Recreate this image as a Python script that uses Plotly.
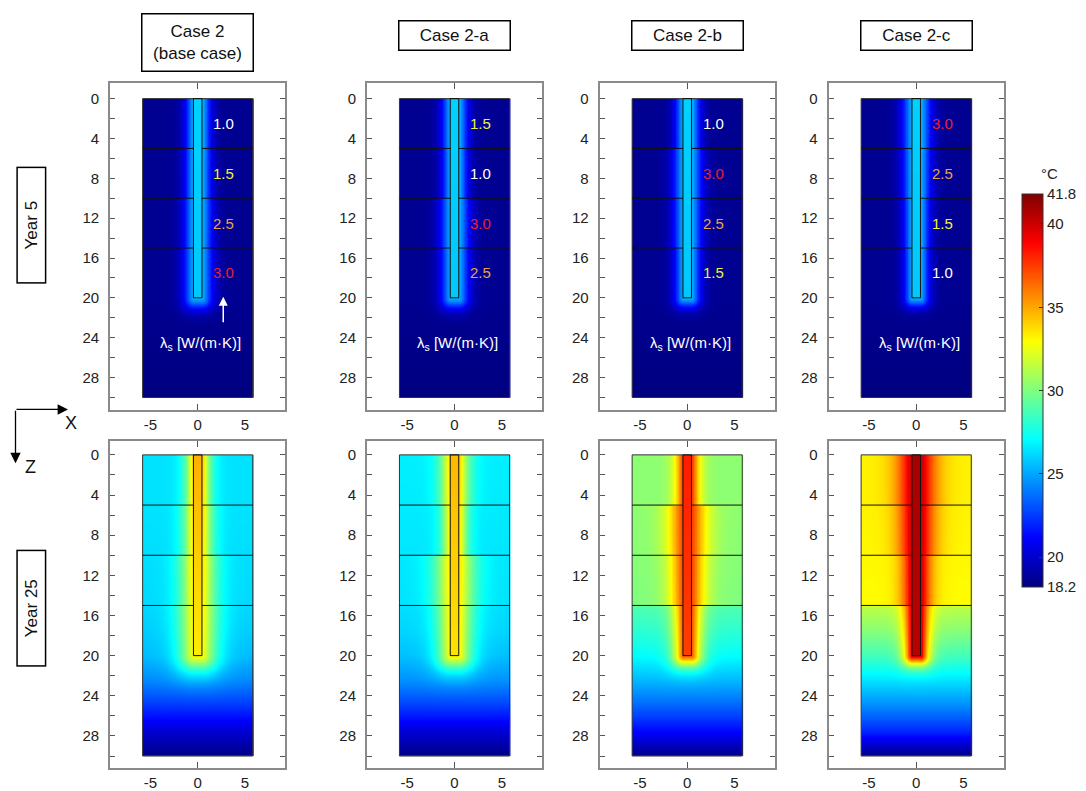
import numpy as np
import plotly.graph_objects as go

# ---------------- values ----------------
CASE_LABELS = ["Case 2<br>(base case)", "Case 2-a", "Case 2-b", "Case 2-c"]
YEAR_LABELS = ["Year 5", "Year 25"]

LAYER_BOUNDS = [5, 10, 15]                 # m, interfaces between soil layers
LAYER_CENTRES = [2.5, 7.5, 12.5, 17.5]     # m, where the lambda values are written
LAMBDA_CASE_2 = [1.0, 1.5, 2.5, 3.0]
LAMBDA_CASE_2A = [1.5, 1.0, 3.0, 2.5]
LAMBDA_CASE_2B = [1.0, 3.0, 2.5, 1.5]
LAMBDA_CASE_2C = [3.0, 2.5, 1.5, 1.0]
LAMBDAS = [LAMBDA_CASE_2, LAMBDA_CASE_2A, LAMBDA_CASE_2B, LAMBDA_CASE_2C]
LAMBDA_COLOURS = {1.0: "#ffffff", 1.5: "#f2f23a", 2.5: "#eaa24e", 3.0: "#e8202a"}

PILE_LENGTH = 20.0
PILE_HALF_WIDTH = 0.45
SOIL_HALF_WIDTH = 5.82
SOIL_DEPTH = 30.0

# far-field soil temperature (deg C) read at these depths (m)
DEPTH_NODES = [0, 5, 10, 14.9, 15.1, 17.5, 20, 22.5, 25, 27.5, 30]
FAR_Y5_CASE_2 = [18.6, 18.6, 18.6, 18.6, 18.6, 18.6, 18.6, 18.5, 18.4, 18.3, 18.2]
FAR_Y5_CASE_2A = [18.6, 18.6, 18.6, 18.6, 18.6, 18.6, 18.6, 18.5, 18.4, 18.3, 18.2]
FAR_Y5_CASE_2B = [18.6, 18.6, 18.6, 18.6, 18.6, 18.6, 18.6, 18.5, 18.4, 18.3, 18.2]
FAR_Y5_CASE_2C = [18.6, 18.6, 18.6, 18.6, 18.6, 18.6, 18.6, 18.5, 18.4, 18.3, 18.2]
FAR_Y25_CASE_2 = [26.4, 26.4, 26.3, 26.2, 26.1, 25.9, 25.5, 24.3, 22.4, 20.1, 18.3]
FAR_Y25_CASE_2A = [26.7, 26.6, 26.5, 26.4, 26.3, 26.1, 25.6, 24.5, 22.6, 20.2, 18.3]
FAR_Y25_CASE_2B = [30.3, 30.3, 30.2, 30.0, 28.9, 28.1, 27.1, 25.4, 23.5, 21.2, 18.3]
FAR_Y25_CASE_2C = [33.2, 33.2, 33.1, 33.0, 31.4, 30.2, 28.6, 26.4, 24.4, 22.0, 18.3]
FAR_T = [[FAR_Y5_CASE_2, FAR_Y5_CASE_2A, FAR_Y5_CASE_2B, FAR_Y5_CASE_2C],
         [FAR_Y25_CASE_2, FAR_Y25_CASE_2A, FAR_Y25_CASE_2B, FAR_Y25_CASE_2C]]

# pile temperature (deg C) at pile head and pile toe
PILE_T_Y5 = [(26.0, 25.8), (26.0, 25.8), (26.0, 25.8), (26.0, 25.8)]
PILE_T_Y25 = [(34.8, 33.4), (34.6, 33.6), (38.2, 37.4), (40.9, 40.5)]
PILE_T = [PILE_T_Y5, PILE_T_Y25]

# width of the warm zone around the pile: base + slope * lambda, shape exponent
HALO_BASE = [0.80, 0.55]
HALO_SLOPE = [0.10, 0.33]
HALO_SHAPE = [1.6, 1.4]
EDGE_FACTOR = [0.9, 0.93]

T_MIN, T_MAX = 18.2, 41.8
CBAR_TICKS = [18.2, 20, 25, 30, 35, 40, 41.8]
Y_TICKS = [0, 4, 8, 12, 16, 20, 24, 28]
X_TICKS = [-5, 0, 5]

# ---------------- layout geometry (pixels) ----------------
W, H = 1086, 791
COL_CENTRES = [197.7, 454.5, 687.2, 916.2]
HALF_FRAME = 87.5
ROW_FRAMES = [(83, 412), (443, 771)]
ROW_RANGES = [(-1.6, 31.3), (-1.35, 31.2)]
FONT = "Liberation Sans, Arial, sans-serif"

JET = [[0.0, "rgb(0,0,128)"], [0.125, "rgb(0,0,255)"], [0.375, "rgb(0,255,255)"],
       [0.625, "rgb(255,255,0)"], [0.875, "rgb(255,0,0)"], [1.0, "rgb(128,0,0)"]]

xs = np.arange(-SOIL_HALF_WIDTH + 0.04, SOIL_HALF_WIDTH, 0.08)
zs = np.arange(0.05, SOIL_DEPTH, 0.1)
X, Z = np.meshgrid(xs, zs)


def build_field(row, col):
    far = np.interp(Z, DEPTH_NODES, FAR_T[row][col])
    zc = np.clip(Z, 0, PILE_LENGTH)
    p_top, p_bot = PILE_T[row][col]
    tp = np.interp(zc, [0, PILE_LENGTH], [p_top, p_bot])
    lam_arr = np.array(LAMBDAS[col])
    idx = np.clip((zc // 5).astype(int), 0, 3)
    lam = lam_arr[idx]
    L = HALO_BASE[row] + HALO_SLOPE[row] * lam
    dx = np.maximum(np.abs(X) - PILE_HALF_WIDTH, 0)
    dz = np.maximum(Z - PILE_LENGTH, 0)
    d = np.hypot(dx, dz)
    t = far + (tp - far) * EDGE_FACTOR[row] * np.exp(-(d / L) ** HALO_SHAPE[row])
    inside = (np.abs(X) <= PILE_HALF_WIDTH) & (Z <= PILE_LENGTH)
    t = np.where(inside, tp, t)
    return np.round(t, 2)


fig = go.Figure()
shapes = []
annotations = []
layout_axes = {}

for row in range(2):
    for col in range(4):
        i = row * 4 + col
        xa = "x" if i == 0 else f"x{i + 1}"
        ya = "y" if i == 0 else f"y{i + 1}"
        xkey = "xaxis" if i == 0 else f"xaxis{i + 1}"
        ykey = "yaxis" if i == 0 else f"yaxis{i + 1}"
        cx = COL_CENTRES[col]
        top, bot = ROW_FRAMES[row]
        zlo, zhi = ROW_RANGES[row]
        xr = HALF_FRAME / 9.46
        layout_axes[xkey] = dict(
            domain=[(cx - HALF_FRAME) / W, (cx + HALF_FRAME) / W],
            range=[-xr, xr], anchor=ya, showline=True, linecolor="#8a8a8a",
            linewidth=2, mirror="allticks", showgrid=False, zeroline=False,
            tickvals=X_TICKS, ticks="", ticktext=["-5", "0", "5"],
            minor=dict(tickvals=[0], ticks="inside", ticklen=6, tickcolor="#555", tickwidth=1),
            tickfont=dict(family=FONT, size=15, color="#222"), fixedrange=True)
        layout_axes[ykey] = dict(
            domain=[1 - bot / H, 1 - top / H], range=[zhi, zlo], anchor=xa,
            showline=True, linecolor="#8a8a8a", linewidth=2, mirror="allticks",
            showgrid=False, zeroline=False, tickvals=Y_TICKS, ticks="inside",
            ticklen=5, tickcolor="#555", tickwidth=1,
            minor=dict(tick0=0, dtick=2, ticks="inside", ticklen=5, tickcolor="#555", tickwidth=1),
            ticklabelstandoff=6,
            tickfont=dict(family=FONT, size=15, color="#222"), fixedrange=True)

        fig.add_trace(go.Heatmap(x=xs, y=zs, z=build_field(row, col), coloraxis="coloraxis",
                                 xaxis=xa, yaxis=ya, hoverinfo="skip", zsmooth="best"))

        # soil block outline, layer interfaces, pile outline
        shapes.append(dict(type="rect", xref=xa, yref=ya, x0=-SOIL_HALF_WIDTH, x1=SOIL_HALF_WIDTH,
                           y0=0, y1=SOIL_DEPTH, line=dict(color="#333", width=1)))
        for zb in LAYER_BOUNDS:
            for sgn in (-1, 1):
                shapes.append(dict(type="line", xref=xa, yref=ya, x0=sgn * PILE_HALF_WIDTH,
                                   x1=sgn * SOIL_HALF_WIDTH, y0=zb, y1=zb,
                                   line=dict(color="#111", width=1)))
        shapes.append(dict(type="rect", xref=xa, yref=ya, x0=-PILE_HALF_WIDTH, x1=PILE_HALF_WIDTH,
                           y0=0, y1=PILE_LENGTH, line=dict(color="#111", width=1)))

        if row == 0:
            for zc_, lv in zip(LAYER_CENTRES, LAMBDAS[col]):
                annotations.append(dict(xref=xa, yref=ya, x=2.75, y=zc_, text=f"{lv:.1f}",
                                        showarrow=False, xanchor="center", yanchor="middle",
                                        font=dict(family=FONT, size=15, color=LAMBDA_COLOURS[lv])))
            annotations.append(dict(xref=xa, yref=ya, x=0.3, y=24.6,
                                    text="λ<sub>s</sub> [W/(m·K)]", showarrow=False,
                                    xanchor="center", yanchor="middle",
                                    font=dict(family=FONT, size=15, color="white")))
            if col == 0:
                annotations.append(dict(xref=xa, yref=ya, x=2.7, y=19.9, axref=xa, ayref=ya,
                                        ax=2.7, ay=22.6, text="", showarrow=True,
                                        arrowhead=2, arrowsize=1.2, arrowwidth=1.5,
                                        arrowcolor="white"))

# case labels (boxed)
for col, lab in enumerate(CASE_LABELS):
    two_lines = col == 0
    annotations.append(dict(xref="paper", yref="paper", x=COL_CENTRES[col] / W,
                            y=1 - (42.5 if two_lines else 36) / H, text=lab, showarrow=False,
                            xanchor="center", yanchor="middle",
                            width=108, height=54 if two_lines else 26,
                            bordercolor="black", borderwidth=1.5, borderpad=1,
                            font=dict(family=FONT, size=17, color="#111")))

# year labels (boxed, rotated)
for yc, lab in zip([226, 610.5], YEAR_LABELS):
    annotations.append(dict(xref="paper", yref="paper", x=31.5 / W, y=1 - yc / H, text=lab,
                            textangle=-90, showarrow=False, xanchor="center", yanchor="middle",
                            width=112, height=25,
                            bordercolor="black", borderwidth=1.5, borderpad=1,
                            font=dict(family=FONT, size=17, color="#111")))

# X / Z orientation arrows
annotations.append(dict(xref="paper", yref="paper", x=68 / W, y=1 - 411 / H, ax=-53, ay=0,
                        text="", showarrow=True, arrowhead=2, arrowsize=1.6, arrowwidth=1.3,
                        arrowcolor="black"))
annotations.append(dict(xref="paper", yref="paper", x=15.5 / W, y=1 - 465 / H, ax=0, ay=-54,
                        text="", showarrow=True, arrowhead=2, arrowsize=1.6, arrowwidth=1.3,
                        arrowcolor="black"))
annotations.append(dict(xref="paper", yref="paper", x=71 / W, y=1 - 425 / H, text="X",
                        showarrow=False, xanchor="center", yanchor="middle",
                        font=dict(family=FONT, size=18, color="#111")))
annotations.append(dict(xref="paper", yref="paper", x=30 / W, y=1 - 469 / H, text="Z",
                        showarrow=False, xanchor="center", yanchor="middle",
                        font=dict(family=FONT, size=18, color="#111")))
# colour bar unit
annotations.append(dict(xref="paper", yref="paper", x=1049 / W, y=1 - 174 / H, text="°C",
                        showarrow=False, xanchor="center", yanchor="middle",
                        font=dict(family=FONT, size=15, color="#222")))

fig.update_layout(
    width=W, height=H, margin=dict(l=0, r=0, t=0, b=0),
    paper_bgcolor="white", plot_bgcolor="white", showlegend=False,
    coloraxis=dict(
        colorscale=JET, cmin=T_MIN, cmax=T_MAX,
        colorbar=dict(
            x=1021.5 / W, xanchor="left", y=1 - 392 / H, yanchor="middle",
            thickness=21, thicknessmode="pixels", len=393, lenmode="pixels",
            outlinewidth=1, outlinecolor="#333", tickvals=CBAR_TICKS,
            ticktext=[f"{v:g}" for v in CBAR_TICKS], ticks="inside", ticklen=4,
            tickcolor="#333", tickfont=dict(family=FONT, size=15, color="#222"),
            xpad=0, ypad=0)),
    shapes=shapes, annotations=annotations, **layout_axes)

fig.write_html("out.html")
